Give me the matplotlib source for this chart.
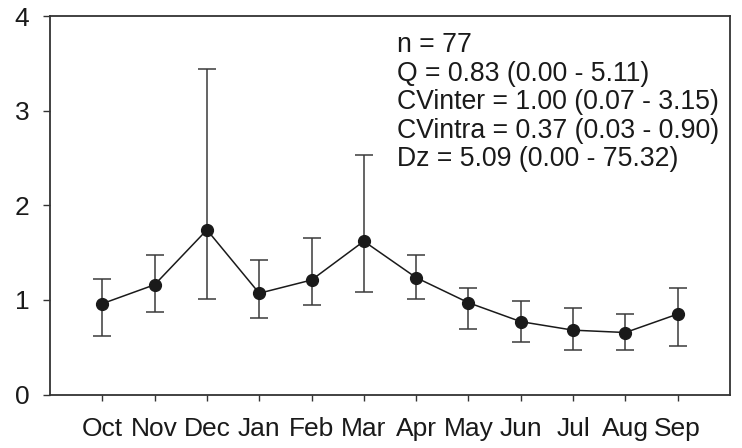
"""
Monthly mean with error bars, Oct - Sep.
"""

import numpy as np
import matplotlib
matplotlib.use("Agg")
import matplotlib.pyplot as plt

# ---------- Data ---------- #
months = ["Oct", "Nov", "Dec", "Jan", "Feb", "Mar", "Apr", "May", "Jun", "Jul", "Aug", "Sep"]
mean_vals = [0.96, 1.16, 1.74, 1.07, 1.21, 1.62, 1.235, 0.97, 0.77, 0.68, 0.655, 0.85]
upper_vals = [1.225, 1.47, 3.44, 1.425, 1.65, 2.53, 1.475, 1.125, 0.99, 0.917, 0.853, 1.122]
lower_vals = [0.613, 0.875, 1.01, 0.811, 0.949, 1.087, 1.01, 0.695, 0.55, 0.472, 0.465, 0.514]

stats_lines = [
    "n = 77",
    "Q = 0.83 (0.00 - 5.11)",
    "CVinter = 1.00 (0.07 - 3.15)",
    "CVintra = 0.37 (0.03 - 0.90)",
    "Dz = 5.09 (0.00 - 75.32)",
]

# ---------- Plot ---------- #
plt.rcParams['font.family'] = ['Liberation Sans', 'DejaVu Sans']

fig = plt.figure(figsize=(7.42, 4.48), dpi=100)
ax = fig.add_axes([50 / 742, 53.5 / 448, 680 / 742, 378.5 / 448])

x = np.arange(len(months))
mean_arr = np.array(mean_vals)
yerr = [mean_arr - np.array(lower_vals), np.array(upper_vals) - mean_arr]

ax.errorbar(x, mean_arr, yerr=yerr, fmt='none', ecolor='#3a3a3a',
            elinewidth=1.1, capsize=6.5, capthick=1.1, zorder=2)
ax.plot(x, mean_arr, color='#1a1a1a', linewidth=1.1, marker='o',
        markersize=8.5, markerfacecolor='#1a1a1a', markeredgecolor='#1a1a1a', zorder=3)

ax.set_xlim(-1, 12)
ax.set_ylim(0, 4)
ax.set_yticks([0, 1, 2, 3, 4])
ax.set_xticks(x)
ax.set_xticklabels(months)

ax.tick_params(axis='y', direction='out', length=5, width=1, colors='#333333',
               labelcolor='#1a1a1a', labelsize=19, pad=10)
ax.tick_params(axis='x', direction='out', length=4.3, width=1, colors='#333333',
               labelcolor='#1a1a1a', labelsize=19, pad=12)
for sp in ax.spines.values():
    sp.set_color('#333333')
    sp.set_linewidth(1.3)

ax.text((397 - 50) / 680, (394.5 - 32.5) / 378.5, "\n".join(stats_lines),
        transform=ax.transAxes, ha='left', va='top', fontsize=19.2,
        linespacing=1.12, color='#1a1a1a')

plt.savefig("out.png", dpi=100)
